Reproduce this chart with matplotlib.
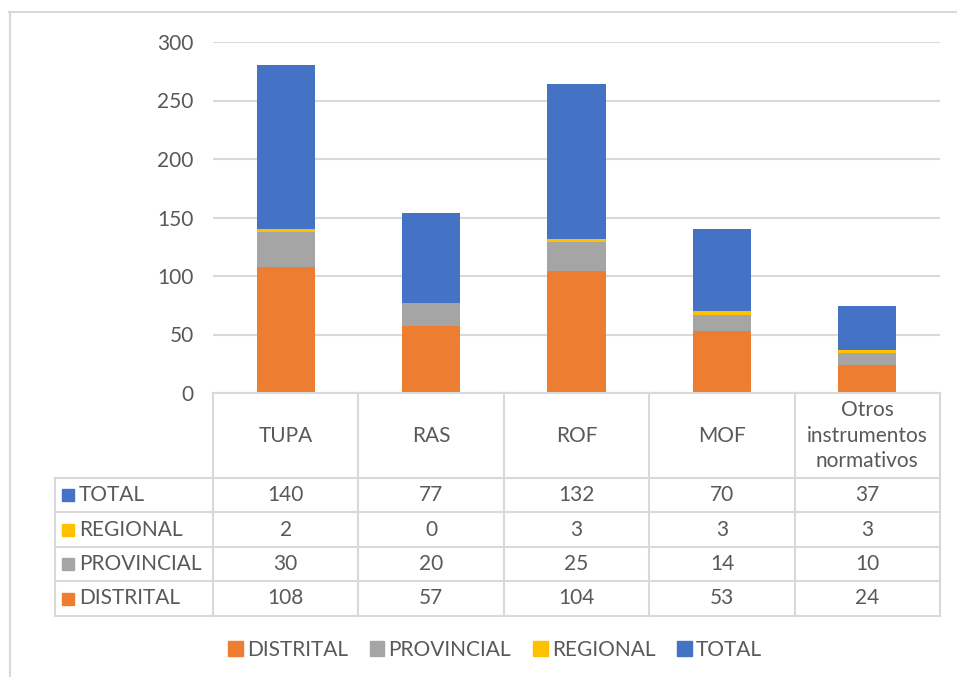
import numpy as np
import matplotlib.pyplot as plt
from matplotlib.patches import Patch, Rectangle
from matplotlib.lines import Line2D

categories = ['TUPA', 'RAS', 'ROF', 'MOF', 'Otros\ninstrumentos\nnormativos']
series = ['DISTRITAL', 'PROVINCIAL', 'REGIONAL', 'TOTAL']
distrital = [108, 57, 104, 53, 24]
provincial = [30, 20, 25, 14, 10]
regional = [2, 0, 3, 3, 3]
total = [140, 77, 132, 70, 37]
colors = ['#ED7D31', '#A5A5A5', '#FFC000', '#4472C4']
yticks = [0, 50, 100, 150, 200, 250, 300]

plt.rcParams['font.family'] = ['Lato', 'DejaVu Sans']
txt = '#595959'
grid = '#d9d9d9'
fs = 15

W, H = 957, 677
fig = plt.figure(figsize=(W / 100, H / 100), dpi=100)

# outer chart frame
fig.add_artist(Line2D([9 / W, 957 / W], [1 - 12 / H, 1 - 12 / H], color=grid, lw=1.5))
fig.add_artist(Line2D([10 / W, 10 / W], [0, 1 - 12 / H], color=grid, lw=1.5))

# stacked columns
ax = fig.add_axes([213 / W, (H - 393) / H, 727 / W, 351 / H])
data = [distrital, provincial, regional, total]
x = np.arange(len(categories))
bottom = np.zeros(len(categories))
for vals, c in zip(data, colors):
    ax.bar(x, vals, width=0.4, bottom=bottom, color=c, zorder=3)
    bottom += np.array(vals)

ax.set_xlim(-0.5, len(categories) - 0.5)
ax.set_ylim(0, 300)
ax.set_yticks(yticks)
ax.set_xticks([])
ax.tick_params(axis='y', length=0, pad=14, labelsize=fs, labelcolor=txt)
for s in ax.spines.values():
    s.set_visible(False)
ax.yaxis.grid(True, color=grid, lw=1.5, zorder=0)

# data table under the columns
tx = fig.add_axes([55 / W, (H - 616) / H, 885 / W, 223 / H])
tx.set_xlim(0, 885)
tx.set_ylim(223, 0)
tx.axis('off')
lab_w = 158
col_w = (885 - lab_w) / len(categories)
rows = [0, 85, 119, 154, 188, 223]

for k in range(len(categories) + 1):
    xx = lab_w + k * col_w
    tx.plot([xx, xx], [0, 223], color=grid, lw=1.5, clip_on=False)
tx.plot([0, 0], [rows[1], 223], color=grid, lw=1.5, clip_on=False)
tx.plot([lab_w, 885], [0, 0], color=grid, lw=1.5, clip_on=False)
for r in rows[1:]:
    tx.plot([0, 885], [r, r], color=grid, lw=1.5, clip_on=False)

for k, cat in enumerate(categories):
    tx.text(lab_w + (k + 0.5) * col_w, rows[1] / 2, cat, ha='center', va='center',
            fontsize=fs, color=txt, linespacing=1.35)

table_rows = list(zip(series, data, colors))[::-1]
for i, (name, vals, c) in enumerate(table_rows):
    yc = (rows[i + 1] + rows[i + 2]) / 2
    tx.add_patch(Rectangle((7, yc - 6), 12, 12, color=c, clip_on=False))
    tx.text(24, yc, name, ha='left', va='center', fontsize=fs, color=txt)
    for k, v in enumerate(vals):
        tx.text(lab_w + (k + 0.5) * col_w, yc, str(v), ha='center', va='center',
                fontsize=fs, color=txt)

handles = [Patch(color=c, label=s) for s, c in zip(series, colors)]
fig.legend(handles=handles, loc='center', bbox_to_anchor=(495 / W, 1 - 650 / H), ncol=4,
           frameon=False, fontsize=fs, labelcolor=txt, handlelength=0.7, handleheight=0.7,
           handletextpad=0.2, columnspacing=1.05)

fig.savefig('out.png', dpi=100)
